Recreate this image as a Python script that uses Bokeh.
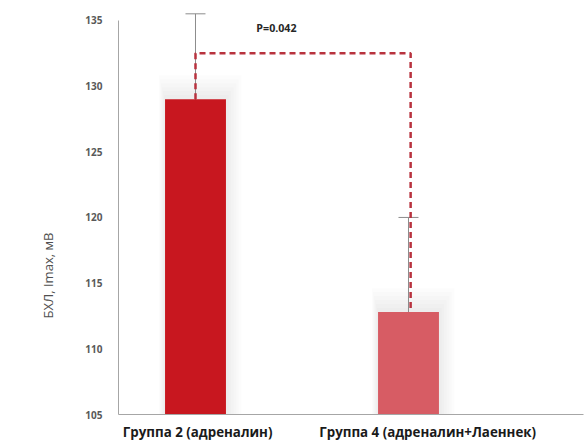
import math
from bokeh.plotting import figure
from bokeh.models import Range1d, Whisker, ColumnDataSource, FixedTicker, Title
from bokeh.core.properties import value
from bokeh.embed import file_html
from bokeh.resources import INLINE

categories = ["Группа 2 (адреналин)", "Группа 4 (адреналин+Лаеннек)"]
means = [129.0, 112.8]
upper = [135.5, 120.0]
lower = [121.0, 105.5]
bar_colors = ["#c8171f", "#d75c64"]
y_ticks = [105, 110, 115, 120, 125, 130, 135]
bracket_y = 132.5
p_text = "P=0.042"
y_label = "БХЛ, Imax, мВ"

xs = list(range(len(categories)))
label_shift = [0.01, 0.09]  # style: horizontal nudge of category labels
tick_pos = [x + s for x, s in zip(xs, label_shift)]

p = figure(width=588, height=443, output_backend="svg", toolbar_location=None,
           x_range=Range1d(-0.3615, 1.8216), y_range=Range1d(105, 135.6),
           min_border_left=118, min_border_top=12, min_border_bottom=29, min_border_right=5)
p.outline_line_color = None
p.grid.grid_line_color = None
p.background_fill_color = "white"

# soft shadow behind bars
for k in range(6):
    d = 0.012 * (k + 1)
    p.quad(left=[x - 0.143 - d * 0.4 for x in xs], right=[x + 0.143 + d for x in xs],
           bottom=[105] * len(xs), top=[m + d * 25 for m in means],
           fill_color="#909090", fill_alpha=0.03, line_color=None)

src = ColumnDataSource(dict(x=xs, top=means, color=bar_colors, upper=upper, lower=lower))
p.vbar(x="x", top="top", bottom=105, width=0.286, fill_color="color", line_color=None, source=src)

w = Whisker(base="x", upper="upper", lower="lower", source=src, dimension="height",
            line_color="#8c8c8c", line_width=1)
w.upper_head.size = 20
w.lower_head.size = 20
w.upper_head.line_color = "#8c8c8c"
w.lower_head.line_color = "#8c8c8c"
p.add_layout(w)

# significance bracket
p.line(x=[xs[0], xs[0], xs[1] + 0.01, xs[1] + 0.01],
       y=[means[0], bracket_y, bracket_y, means[1]],
       line_color="#b8323e", line_width=2.5, line_dash="6 4")

p.text(x=[0.38], y=[134.4], text=[p_text], text_font=value("Open Sans"),
       text_font_size="8pt", text_font_style="bold", text_color="#262626",
       text_align="center", text_baseline="middle")

p.xaxis.ticker = FixedTicker(ticks=tick_pos)
p.xaxis.major_label_overrides = {t: c for t, c in zip(tick_pos, categories)}
p.xaxis.major_label_text_font = "Open Sans"
p.xaxis.major_label_text_font_style = "bold"
p.xaxis.major_label_text_font_size = "10pt"
p.xaxis.major_label_text_color = "#1a1a1a"
p.xaxis.major_tick_line_color = None
p.xaxis.major_tick_out = 0
p.xaxis.minor_tick_line_color = None
p.xaxis.axis_line_color = "#a6a6a6"
p.xaxis.major_label_standoff = 8

p.yaxis.ticker = FixedTicker(ticks=y_ticks)
p.yaxis.bounds = (105, 135)
p.yaxis.major_label_text_font = "Open Sans"
p.yaxis.major_label_text_font_size = "7.5pt"
p.yaxis.major_label_text_font_style = "bold"
p.yaxis.major_label_text_color = "#595959"
p.yaxis.major_tick_line_color = None
p.yaxis.major_tick_out = 0
p.yaxis.minor_tick_line_color = None
p.yaxis.axis_line_color = "#a6a6a6"
p.yaxis.major_label_standoff = 16

t = Title(text=y_label, align="left", offset=96, standoff=52, text_font="Open Sans",
          text_font_size="9.8pt", text_font_style="normal", text_color="#505050")
p.add_layout(t, "left")

open("out.html", "w").write(file_html(p, INLINE))
